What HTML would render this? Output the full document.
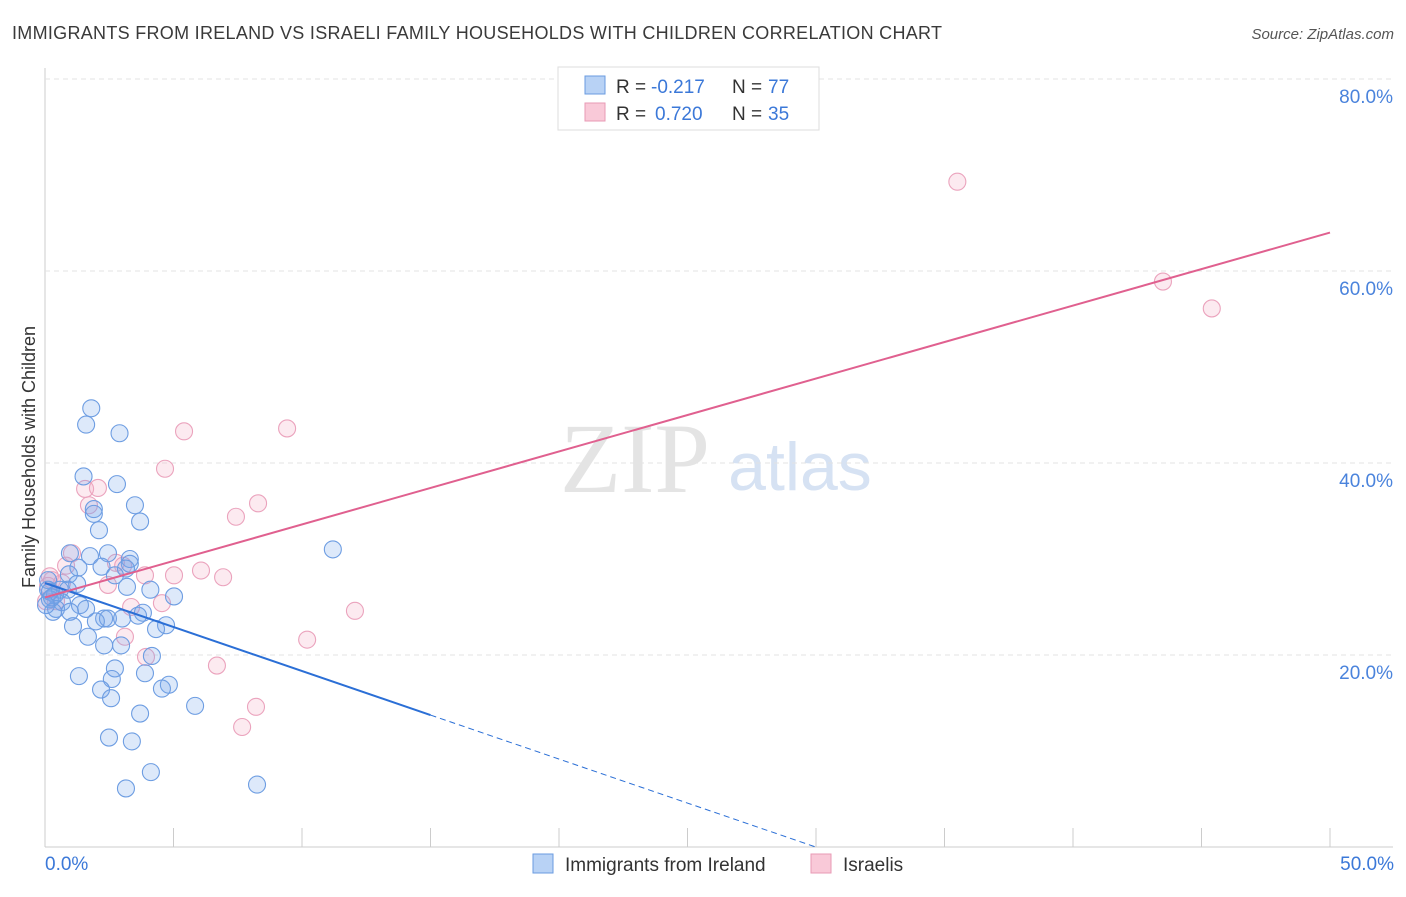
<!DOCTYPE html>
<html><head><meta charset="utf-8"><style>
body{margin:0;background:#fff;font-family:"Liberation Sans",sans-serif}
#wrap{position:relative;width:1406px;height:892px}
</style></head><body>
<div id="wrap">
<svg id="svg" width="1406" height="892">
<text x="12" y="39" font-size="18" fill="#3a3a3a" textLength="930">IMMIGRANTS FROM IRELAND VS ISRAELI FAMILY HOUSEHOLDS WITH CHILDREN CORRELATION CHART</text>
<text x="1394" y="39" font-size="15" fill="#555" font-style="italic" text-anchor="end">Source: ZipAtlas.com</text>
<text x="35" y="457" font-size="18" fill="#333" text-anchor="middle" transform="rotate(-90 35 457)">Family Households with Children</text>
<text x="635" y="492" font-size="100" fill="#e4e4e4" font-family="Liberation Serif,serif" text-anchor="middle">ZIP</text>
<text x="800" y="490" font-size="68" fill="#d6e2f3" text-anchor="middle">atlas</text>
<g id="grid"></g><g id="pts"></g><g id="lines"></g>
<g>
<rect x="558" y="67" width="261" height="63" fill="#fff" stroke="#ddd"/>
<rect x="585" y="76" width="20" height="18" fill="#b8d2f5" stroke="#6a9be0"/>
<rect x="585" y="103" width="20" height="18" fill="#f9c9d8" stroke="#e89ab5"/>
<text x="616" y="93" font-size="19" fill="#333">R =</text>
<text x="651" y="93" font-size="19" fill="#3b78d8">-0.217</text>
<text x="732" y="93" font-size="19" fill="#333">N =</text>
<text x="768" y="93" font-size="19" fill="#3b78d8">77</text>
<text x="616" y="120" font-size="19" fill="#333">R =</text>
<text x="655" y="120" font-size="19" fill="#3b78d8">0.720</text>
<text x="732" y="120" font-size="19" fill="#333">N =</text>
<text x="768" y="120" font-size="19" fill="#3b78d8">35</text>
</g>
<g>
<rect x="533" y="854" width="20" height="19" fill="#b8d2f5" stroke="#6a9be0"/>
<text x="565" y="871" font-size="19" fill="#333">Immigrants from Ireland</text>
<rect x="811" y="854" width="20" height="19" fill="#f9c9d8" stroke="#e89ab5"/>
<text x="843" y="871" font-size="19" fill="#333">Israelis</text>
</g>
<text x="45" y="870" font-size="19" fill="#3b78d8">0.0%</text>
<text x="1394" y="870" font-size="19" fill="#3b78d8" text-anchor="end">50.0%</text>
</svg></div>
<script>
const yTicks=[20,40,60,80];
const xTicks=[0,5,10,15,20,25,30,35,40,45,50];
const blueX=[1.8,1.6,2.9,1.5,2.8,3.5,1.9,1.9,3.7,2.1,11.2,0.97,1.75,2.45,3.3,3.3,1.3,2.2,3.15,0.93,2.72,0.12,1.25,0.58,0.89,4.1,5.02,3.19,0.39,0.19,0.66,1.36,1.6,0.43,0.31,0.97,3.81,3.62,2.3,2.45,3.0,1.98,4.71,1.09,4.32,1.67,2.3,2.96,4.16,2.72,1.32,3.89,2.6,4.82,2.18,4.55,2.57,5.84,3.7,2.49,3.38,4.12,3.15,8.25,0.12,0.19,0.27,0.04];
const blueY=[45.7,44.0,43.1,38.6,37.8,35.6,35.2,34.7,33.9,33.0,31.0,30.6,30.3,30.6,30.0,29.5,29.1,29.2,29.0,28.4,28.3,27.8,27.4,26.8,26.8,26.8,26.1,27.1,26.3,25.8,25.5,25.2,24.8,24.8,24.5,24.5,24.4,24.1,23.8,23.8,23.8,23.5,23.1,23.0,22.7,21.9,21.0,21.0,19.9,18.6,17.8,18.1,17.5,16.9,16.4,16.5,15.5,14.7,13.9,11.4,11.0,7.8,6.1,6.5,26.8,26.6,26.0,25.2];
const pinkX=[35.5,43.5,45.4,5.41,9.42,4.67,1.56,2.06,1.71,8.29,7.43,1.05,0.82,2.76,3.04,3.89,6.07,5.02,6.93,0.27,0.66,2.45,3.35,4.55,12.06,3.11,10.2,3.93,6.69,8.21,7.67,0.12,0.19,0.43,0.04];
const pinkY=[69.3,58.9,56.1,43.3,43.6,39.4,37.3,37.4,35.6,35.8,34.4,30.6,29.3,29.6,29.3,28.3,28.8,28.3,28.1,27.8,27.5,27.3,25.0,25.4,24.6,21.9,21.6,19.8,18.9,14.6,12.5,27.2,28.2,25.6,25.6];
const blueLine=[27.5,-0.917];
const pinkLine=[26.0,0.76];
const X=v=>45+v*25.7, Y=v=>847-v*9.6;
const NS="http://www.w3.org/2000/svg";
function mk(t,a,p){const e=document.createElementNS(NS,t);for(const k in a)e.setAttribute(k,a[k]);p.appendChild(e);return e;}
const grid=document.getElementById('grid');
mk('line',{x1:45,y1:68,x2:45,y2:847,stroke:'#ccc'},grid);
mk('line',{x1:45,y1:847,x2:1393,y2:847,stroke:'#ccc'},grid);
yTicks.forEach(t=>{
 const g=mk('line',{x1:45,y1:Y(t),x2:1393,y2:Y(t),stroke:'#e3e3e3','stroke-dasharray':'5,4'},grid);
 
 
 const tx=mk('text',{x:1393,y:Y(t)+24,'font-size':19,fill:'#4a83dc','text-anchor':'end'},grid);
 tx.textContent=t.toFixed(1)+'%';
 
 
});
xTicks.forEach(t=>{
 const l=mk('line',{x1:X(t),y1:828,x2:X(t),y2:847,stroke:'#ccc'},grid);
 
 
});
const pts=document.getElementById('pts');
pinkX.forEach((x,i)=>{
 const c=mk('circle',{cx:X(x),cy:Y(pinkY[i]),r:8.5,fill:'rgba(244,170,196,0.25)',stroke:'#eba3bd','stroke-width':1.1},pts);
 
 
});
blueX.forEach((x,i)=>{
 const c=mk('circle',{cx:X(x),cy:Y(blueY[i]),r:8.5,fill:'rgba(120,166,234,0.25)',stroke:'#6d9de2','stroke-width':1.1},pts);
 
 
});
const lines=document.getElementById('lines');
const bl=v=>blueLine[0]+blueLine[1]*v, pl=v=>pinkLine[0]+pinkLine[1]*v;
let e=mk('line',{x1:X(0),y1:Y(bl(0)),x2:X(15),y2:Y(bl(15)),stroke:'#2b6fd6','stroke-width':2},lines);


e=mk('line',{x1:X(15),y1:Y(bl(15)),x2:X(30),y2:Y(bl(30)),stroke:'#2b6fd6','stroke-width':1,'stroke-dasharray':'6,4'},lines);


e=mk('line',{x1:X(0),y1:Y(pl(0)),x2:X(50),y2:Y(pl(50)),stroke:'#e0608f','stroke-width':2},lines);


</script>
</body></html>
